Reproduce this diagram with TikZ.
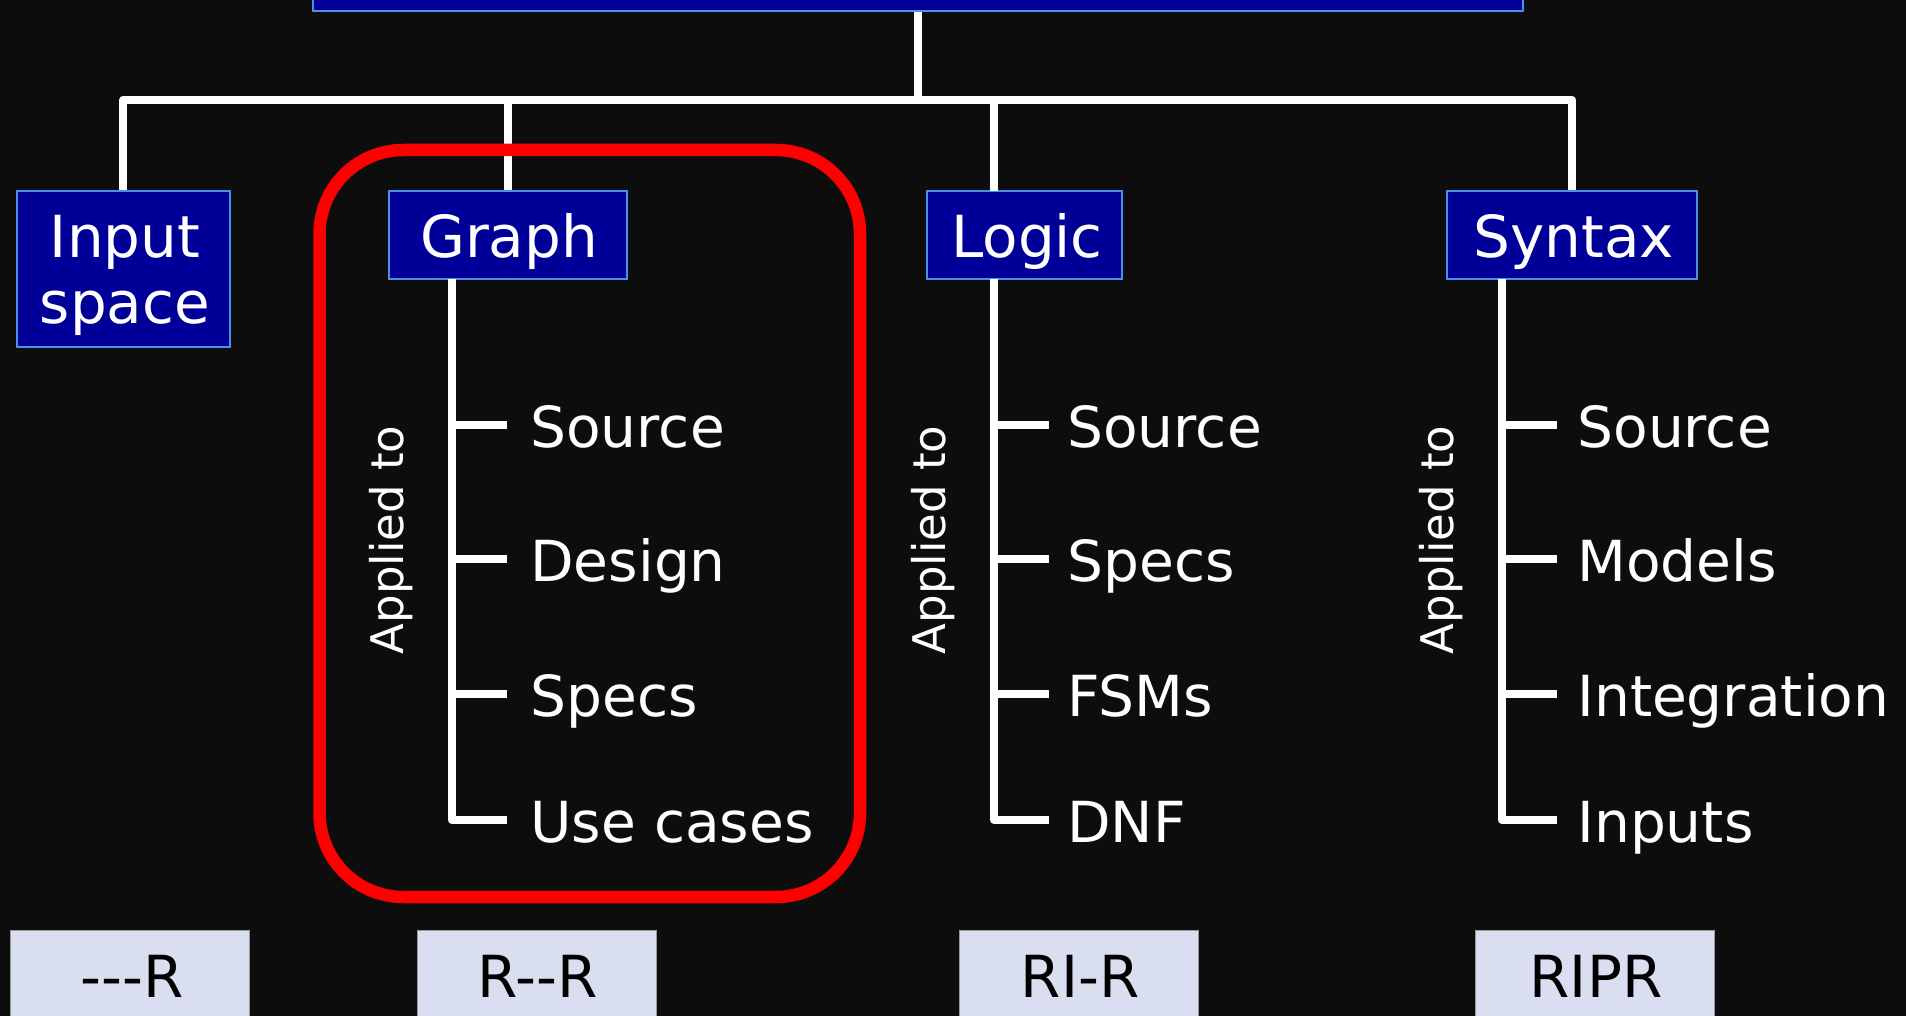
\documentclass[tikz,border=0pt]{standalone}
\usepackage{fontspec}
\setmainfont{DejaVu Sans}
\definecolor{bg}{HTML}{0D0D0D}
\definecolor{boxblue}{HTML}{000099}
\definecolor{boxline}{HTML}{4A8FE8}
\definecolor{lav}{HTML}{D9DFF0}
\definecolor{redline}{HTML}{FF0000}
\begin{document}
\begin{tikzpicture}[x=0.5pt,y=-0.5pt,
  conn/.style={draw=white,line width=4pt,line join=round},
  catbox/.style={draw=boxline,line width=1pt,fill=boxblue,inner sep=0pt},
  catlabel/.style={text=white,font=\fontsize{29}{34}\selectfont,anchor=base,inner sep=0pt},
  item/.style={text=white,font=\fontsize{28.3}{33}\selectfont,anchor=base west,inner sep=0pt},
  applied/.style={text=white,font=\fontsize{22.5}{26}\selectfont,rotate=90,inner sep=0pt},
  lvlbox/.style={fill=lav,draw=black!40,line width=0.5pt,inner sep=0pt,minimum width=119.5pt,minimum height=85pt},
  lvllabel/.style={text=black,font=\fontsize{29}{34}\selectfont,anchor=base,inner sep=0pt},
  focus/.style={draw=redline,line width=6.25pt,rounded corners=42pt}]
\useasboundingbox (0,0) rectangle (1906,1016);
\clip (0,0) rectangle (1906,1016);
\fill[bg] (0,0) rectangle (1906,1016);

% top box (cut off)
\node[catbox,minimum width=605pt,minimum height=100pt] (top) at (918,-89) {};

% category boxes
\node[catbox,minimum width=106.75pt,minimum height=78pt] (input) at (123.25,269) {};
\node[catbox,minimum width=119pt,minimum height=44pt] (graph) at (508,235) {};
\node[catbox,minimum width=97.5pt,minimum height=44pt] (logic) at (1024.5,235) {};
\node[catbox,minimum width=125pt,minimum height=44pt] (syntax) at (1572,235) {};

\node[catlabel] (inputA) at (125,257) {Input};
\node[catlabel] (inputB) at (125,323) {space};
\node[catlabel] (graphL) at (509,257) {Graph};
\node[catlabel] (logicL) at (1027,257) {Logic};
\node[catlabel] (syntaxL) at (1574,257) {Syntax};

% connectors from top
\coordinate (bar) at (918,100);
\coordinate (lconn) at (994,191);
\draw[conn] (top.south) -- (bar);
\draw[conn] (input.north) |- (syntax.north |- bar) -- (syntax.north);
\draw[conn] (graph.north) -- (graph.north |- bar);
\draw[conn] (lconn) -- (lconn |- bar);

% red highlight
\draw[focus] (319.5,150) rectangle (860,897);

% Graph tree
\coordinate (gt) at (452,279);
\draw[conn] (gt) -- (452,820) -- (507,820);
\draw[conn] (452,425) -- (507,425);
\draw[conn] (452,559) -- (507,559);
\draw[conn] (452,694) -- (507,694);
\node[applied] (gapp) at (391,540) {Applied to};
\node[item] (g1) at (530,447) {Source};
\node[item] (g2) at (530,581) {Design};
\node[item] (g3) at (530,716) {Specs};
\node[item] (g4) at (530,842) {Use cases};

% Logic tree
\coordinate (lt) at (994,279);
\draw[conn] (lt) -- (994,820) -- (1049,820);
\draw[conn] (994,425) -- (1049,425);
\draw[conn] (994,559) -- (1049,559);
\draw[conn] (994,694) -- (1049,694);
\node[applied] (lapp) at (933,540) {Applied to};
\node[item] (l1) at (1067,447) {Source};
\node[item] (l2) at (1067,581) {Specs};
\node[item] (l3) at (1067,716) {FSMs};
\node[item] (l4) at (1067,842) {DNF};

% Syntax tree
\coordinate (st) at (1502,279);
\draw[conn] (st) -- (1502,820) -- (1557,820);
\draw[conn] (1502,425) -- (1557,425);
\draw[conn] (1502,559) -- (1557,559);
\draw[conn] (1502,694) -- (1557,694);
\node[applied] (sapp) at (1441,540) {Applied to};
\node[item] (s1) at (1577,447) {Source};
\node[item] (s2) at (1577,581) {Models};
\node[item] (s3) at (1577,716) {Integration};
\node[item] (s4) at (1577,842) {Inputs};

% bottom level boxes
\node[lvlbox] (b1) at (129.5,1015) {};
\node[lvlbox] (b2) at (536.5,1015) {};
\node[lvlbox] (b3) at (1078.5,1015) {};
\node[lvlbox] (b4) at (1594.5,1015) {};
\node[lvllabel] (b1l) at (132,997) {-{}-{}-R};
\node[lvllabel] (b2l) at (538,997) {R-{}-R};
\node[lvllabel] (b3l) at (1080,997) {RI-R};
\node[lvllabel] (b4l) at (1596,997) {RIPR};
\end{tikzpicture}
\end{document}
